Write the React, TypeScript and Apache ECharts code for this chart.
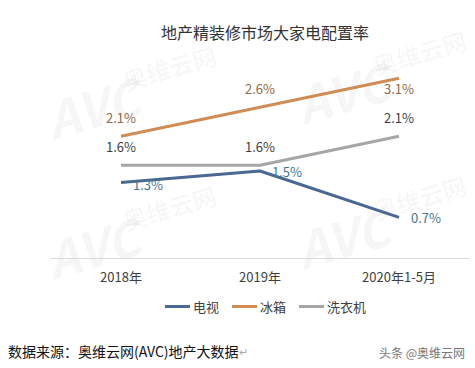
import React, { useEffect, useRef } from "react";
import * as echarts from "echarts";

const categories = ["2018年", "2019年", "2020年1-5月"];
const tvValues = [1.3, 1.5, 0.7];
const fridgeValues = [2.1, 2.6, 3.1];
const washerValues = [1.6, 1.6, 2.1];
const seriesNames = ["电视", "冰箱", "洗衣机"];

const FONT = "'Noto Sans CJK SC', 'Microsoft YaHei', sans-serif";

export default function App() {
  const ref = useRef<HTMLDivElement>(null);
  useEffect(() => {
    document.body.style.margin = "0";
    if (!ref.current) return;
    const chart = echarts.init(ref.current, null, { renderer: "svg" });
    const fmt = (p: any) => Number(p.value).toFixed(1) + "%";
    const wm = (x: number, y: number) => [
      {
        type: "text",
        x,
        y,
        rotation: 0.28,
        z: -10,
        silent: true,
        style: {
          text: "AVC",
          font: "italic bold 50px " + FONT,
          fill: "rgba(0,0,0,0.035)",
        },
      },
      {
        type: "text",
        x: x + 80,
        y: y - 26,
        rotation: 0.28,
        z: -10,
        silent: true,
        style: {
          text: "奥维云网",
          font: "bold 24px " + FONT,
          fill: "rgba(0,0,0,0.035)",
        },
      },
    ];
    chart.setOption({
      animation: false,
      textStyle: { fontFamily: FONT },
      title: {
        text: "地产精装修市场大家电配置率",
        left: 260,
        textAlign: "center",
        top: 19,
        textStyle: { fontSize: 16, fontWeight: "normal", color: "#333" },
      },
      grid: { left: 51.5, right: 6.5, top: 55, bottom: 110 },
      xAxis: {
        type: "category",
        data: categories,
        boundaryGap: true,
        axisLine: { lineStyle: { color: "#d9d9d9", width: 1 } },
        axisTick: { show: false },
        axisLabel: { color: "#404040", fontSize: 13, margin: 12 },
      },
      yAxis: {
        type: "value",
        min: 0,
        max: 3.5,
        show: false,
        splitLine: { show: false },
      },
      legend: {
        data: seriesNames,
        top: 300,
        left: 165,
        padding: 0,
        icon: "rect",
        itemWidth: 25,
        itemHeight: 3,
        itemGap: 13,
        textStyle: { fontSize: 13, color: "#404040", padding: [0, 0, 0, -2] },
      },
      graphic: [
        ...wm(40, 95),
        ...wm(290, 80),
        ...wm(40, 235),
        ...wm(290, 225),
        {
          type: "text",
          left: 8,
          top: 344,
          style: {
            text: "{a|数据来源：奥维云网(AVC)地产大数据}{b|↵}",
            rich: {
              a: { fontSize: 14, fill: "#111", fontFamily: FONT },
              b: { fontSize: 11, fill: "#aaa", fontFamily: FONT },
            },
          },
        },
        {
          type: "text",
          right: 10,
          top: 346,
          style: {
            text: "头条 @奥维云网",
            fontSize: 12,
            fill: "#777",
            fontFamily: FONT,
          },
        },
      ],
      series: [
        {
          name: "电视",
          type: "line",
          data: tvValues.map((v, i) => ({
            value: v,
            label: i === 0 ? { offset: [0, 2] } : {},
          })),
          symbol: "circle",
          symbolSize: 0,
          showSymbol: true,
          lineStyle: { color: "#4a6890", width: 3 },
          itemStyle: { color: "#4a6890" },
          label: {
            show: true,
            position: "right",
            distance: 12,
            formatter: fmt,
            color: "#3f7890",
            fontSize: 13,
          },
        },
        {
          name: "冰箱",
          type: "line",
          data: fridgeValues.map((v, i) => ({
            value: v,
            label:
              i === 2
                ? { position: "bottom", distance: 4 }
                : { position: "top", distance: 12 },
          })),
          symbol: "circle",
          symbolSize: 0,
          showSymbol: true,
          lineStyle: { color: "#cf8c55", width: 3 },
          itemStyle: { color: "#cf8c55" },
          label: {
            show: true,
            formatter: fmt,
            color: "#8f6a45",
            fontSize: 13,
          },
        },
        {
          name: "洗衣机",
          type: "line",
          data: washerValues,
          symbol: "circle",
          symbolSize: 0,
          showSymbol: true,
          lineStyle: { color: "#a6a6a6", width: 3 },
          itemStyle: { color: "#a6a6a6" },
          label: {
            show: true,
            position: "top",
            distance: 12,
            formatter: fmt,
            color: "#404040",
            fontSize: 13,
          },
        },
      ],
    });
    return () => chart.dispose();
  }, []);
  return <div ref={ref} style={{ width: 475, height: 368 }} />;
}
